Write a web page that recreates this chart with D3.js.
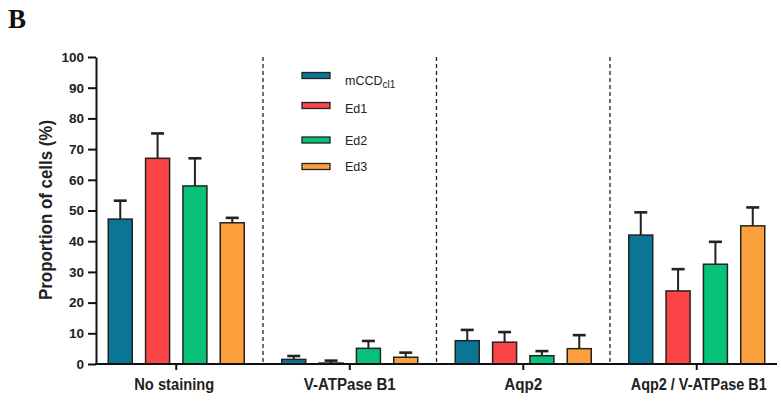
<!DOCTYPE html>
<html><head><meta charset="utf-8">
<script src="https://cdn.jsdelivr.net/npm/d3@7"></script>
<style>body{margin:0;background:#fff}svg{display:block}</style>
</head><body>
<svg id="c" width="781" height="403"></svg>
<script>
const categories = ["No staining", "V-ATPase B1", "Aqp2", "Aqp2 / V-ATPase B1"];
const series = ["mCCD", "Ed1", "Ed2", "Ed3"];
const colors = ["#0b7596", "#fb4445", "#08c27a", "#fca03d"];
const means = {
  "mCCD": [47.2, 1.5, 7.6, 42.0],
  "Ed1":  [67.0, 0.3, 7.1, 23.8],
  "Ed2":  [58.0, 5.1, 2.7, 32.5],
  "Ed3":  [46.0, 2.2, 5.0, 45.0]
};
const errs = {
  "mCCD": [6.0, 1.1, 3.5, 7.4],
  "Ed1":  [8.1, 0.8, 3.3, 7.1],
  "Ed2":  [9.0, 2.4, 1.5, 7.3],
  "Ed3":  [1.6, 1.5, 4.4, 6.0]
};
const yTicks = [0,10,20,30,40,50,60,70,80,90,100];
const labelWidths = [80, 92, 38, 136];
const labelShift = [-2, 0, 0, 2];

const svg = d3.select("#c");
const y = d3.scaleLinear().domain([0,100]).range([364,57]);
const x = d3.scaleBand().domain(categories).range([89.5,783.5]).padding(0);
const xs = d3.scaleBand().domain(series).range([-68,68]).paddingInner(0.357).paddingOuter(0);
const sans = "Liberation Sans, Arial, sans-serif";

// dashed separators
categories.slice(1).forEach(c => {
  svg.append("line").attr("x1", x(c)).attr("x2", x(c))
    .attr("y1", y(100)).attr("y2", y(0))
    .attr("stroke", "#222").attr("stroke-width", 1.3).attr("stroke-dasharray", "4,3");
});

// bars
const data = [];
categories.forEach((c,i) => series.forEach((s,j) => data.push({c, s, v: means[s][i], e: errs[s][i], col: colors[j]})));
const g = svg.append("g");
data.forEach(d => {
  const cx = x(d.c) + x.bandwidth()/2 + xs(d.s);
  const mid = cx + xs.bandwidth()/2;
  g.append("line").attr("x1", mid).attr("x2", mid).attr("y1", y(d.v)).attr("y2", y(d.v + d.e))
    .attr("stroke", "#222").attr("stroke-width", 2);
  g.append("line").attr("x1", mid-6.5).attr("x2", mid+6.5).attr("y1", y(d.v + d.e)).attr("y2", y(d.v + d.e))
    .attr("stroke", "#222").attr("stroke-width", 2.6);
  g.append("rect").attr("x", cx).attr("y", y(d.v)).attr("width", xs.bandwidth()).attr("height", y(0)-y(d.v))
    .attr("fill", d.col).attr("stroke", "#222").attr("stroke-width", 1.5);
});

// y axis
const yAxis = d3.axisLeft(y).tickValues(yTicks).tickSize(8).tickSizeOuter(0);
const ya = svg.append("g").attr("transform", "translate(96,0)").call(yAxis);
ya.select(".domain").attr("stroke", "#111").attr("stroke-width", 2);
ya.selectAll(".tick line").attr("stroke", "#111").attr("stroke-width", 2);
ya.selectAll(".tick text").attr("font-family", sans)
  .attr("font-weight", "bold").attr("font-size", 13.5).attr("fill", "#222").attr("x", -12);

// x axis
const xAxis = d3.axisBottom(x).tickSize(6).tickSizeOuter(0);
const xa = svg.append("g").attr("transform", "translate(0,364)").call(xAxis);
xa.select(".domain").remove();
xa.append("line").attr("x1", 95).attr("x2", 777).attr("y1", 0).attr("y2", 0).attr("stroke", "#111").attr("stroke-width", 2);
xa.selectAll(".tick line").attr("stroke", "#111").attr("stroke-width", 2);
xa.selectAll(".tick text").attr("font-family", sans)
  .attr("font-weight", "bold").attr("font-size", 16).attr("fill", "#222").attr("y", 15)
  .attr("x", (d,i) => labelShift[i])
  .attr("lengthAdjust", "spacingAndGlyphs").attr("textLength", (d,i) => labelWidths[i]);

// y label
svg.append("text").attr("transform", "translate(52,210) rotate(-90)").attr("text-anchor", "middle")
  .attr("font-family", sans).attr("font-weight", "bold").attr("font-size", 18.5)
  .attr("lengthAdjust", "spacingAndGlyphs").attr("textLength", 180)
  .attr("fill", "#222").text("Proportion of cells (%)");

// panel label
svg.append("text").attr("x", 8).attr("y", 28).attr("font-family", "Liberation Serif, Times New Roman, serif")
  .attr("font-weight", "bold").attr("font-size", 27).attr("fill", "#111").text("B");

// legend
const swY = [75.5, 105.5, 140, 166.5];
const txY = [84.5, 113, 145, 170.5];
series.forEach((s,i) => {
  svg.append("rect").attr("x", 302).attr("y", swY[i]-3).attr("width", 28).attr("height", 6)
    .attr("fill", colors[i]).attr("stroke", "#222").attr("stroke-width", 1.3);
  const t = svg.append("text").attr("x", 345).attr("y", txY[i])
    .attr("font-family", sans).attr("font-size", 12.5).attr("fill", "#222");
  t.append("tspan").text(s);
  if (i === 0) t.append("tspan").attr("dy", 3.5).attr("font-size", 10).text("cl1");
});
</script>
</body></html>
